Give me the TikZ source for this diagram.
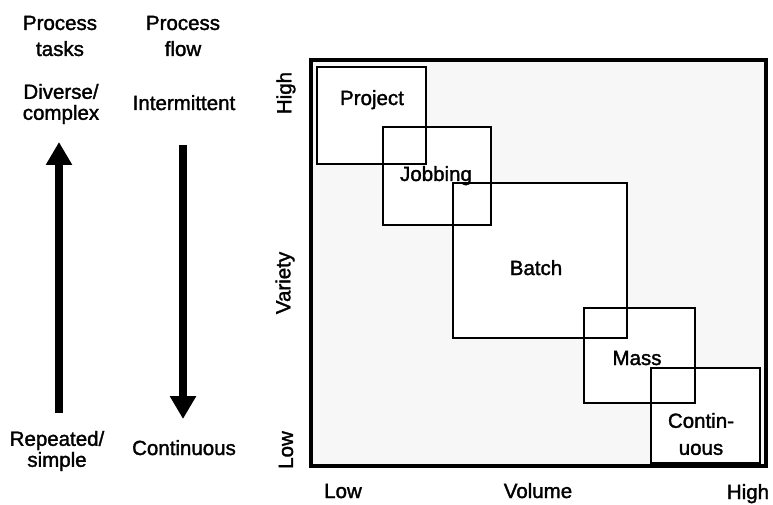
\documentclass[tikz,border=0pt]{standalone}
\usepackage{fontspec}
\setmainfont{Liberation Sans}[FakeBold=1.6]
\usetikzlibrary{arrows.meta,positioning}

\begin{document}
\begin{tikzpicture}[x=1pt,y=-1pt]
    \tikzstyle{txt}=[inner sep=0pt,align=center,font=\fontsize{20.5}{21}\selectfont]
    \tikzstyle{flow}=[line width=8pt,-{Triangle[length=23pt,width=25pt]}]
    \tikzstyle{boxline}=[line width=2.9pt]
    \useasboundingbox (0,0) rectangle (773,505);
    % left columns
    \node[txt,font=\fontsize{20.5}{26}\selectfont] (tasks) at (60,36) {Process\\tasks};
    \node[txt,font=\fontsize{20.5}{26}\selectfont] (flowhead) at (183,36) {Process\\flow};
    \node[txt] (diverse) at (61,104) {Diverse/\\complex};
    \node[txt,anchor=base] (intermittent) at (184,110) {Intermittent};
    \node[txt] (repeated) at (57,451) {Repeated/\\simple};
    \node[txt,anchor=base] (continuous) at (184,455) {Continuous};
    \coordinate (tasksbot) at (59,413);
    \coordinate (taskstop) at (59,142);
    \coordinate (flowtop) at (183,145);
    \coordinate (flowbot) at (183,419);
    \draw[flow] (tasksbot) -- (taskstop);
    \draw[flow] (flowtop) -- (flowbot);
    % matrix
    \fill[black!3] (311,60) rectangle (766,466);
    \foreach \a/\b/\c/\d in {317/67/426/164,383/127/491/225,453/183/627/338,584/308/695/403,651/368/760/463}
        \fill[white] (\a,\b) rectangle (\c,\d);
    \draw[line width=3.2pt] (311,60) rectangle (766,466);
    \foreach \a/\b/\c/\d in {317/67/426/164,383/127/491/225,453/183/627/338,584/308/695/403,651/368/760/463}
        \draw[boxline] (\a,\b) rectangle (\c,\d);
    \node[txt,anchor=base] (project) at (372,105) {Project};
    \node[txt,anchor=base] (jobbing) at (436,181) {Jobbing};
    \node[txt,anchor=base] (batch) at (536,275) {Batch};
    \node[txt,anchor=base] (mass) at (637,365) {Mass};
    \node[txt,font=\fontsize{20.5}{27}\selectfont] (contin) at (701,434) {Contin-\\uous};
    % axes
    \node[txt,rotate=90] (varhigh) at (286,93) {High};
    \node[txt,rotate=90] (variety) at (285,283) {Variety};
    \node[txt,rotate=90] (varlow) at (286,450) {Low};
    \node[txt,anchor=base] (vollow) at (343,498) {Low};
    \node[txt,anchor=base] (volume) at (538,498) {Volume};
    \node[txt,anchor=base] (volhigh) at (748,499) {High};
\end{tikzpicture}
\end{document}
